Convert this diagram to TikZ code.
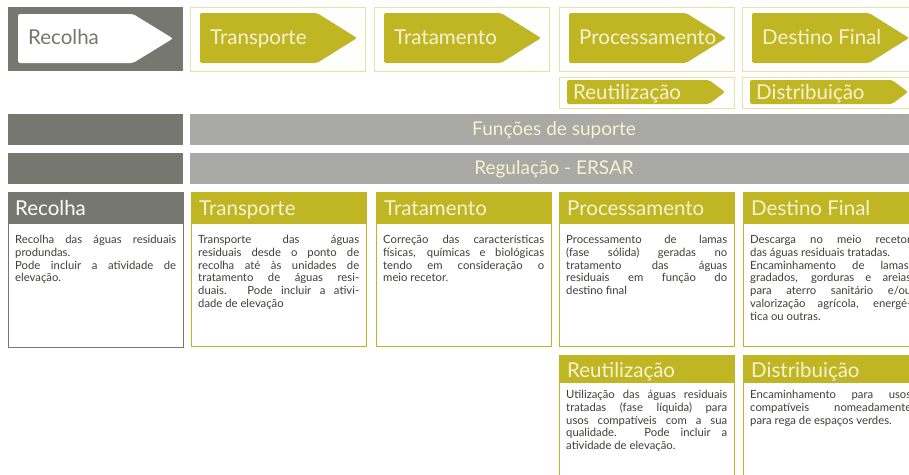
\documentclass[tikz,border=0pt]{standalone}
\usepackage{fontspec}
\setmainfont{Lato}
\usetikzlibrary{positioning}
\definecolor{cinza}{HTML}{76776F}
\definecolor{oliva}{HTML}{C0B624}
\definecolor{palha}{HTML}{E6E1A6}
\definecolor{cinzaclaro}{HTML}{A9A9A5}
\definecolor{creme}{HTML}{F7F3D2}
\definecolor{texto}{HTML}{3E3E3A}
\begin{document}
\begin{tikzpicture}[x=1pt,y=-1pt,
  moldura/.style={draw=palha,line width=1pt,fill=white,anchor=north west,inner sep=0pt,minimum width=175pt,minimum height=#1},
  seta/.style={fill=oliva,rounded corners=2pt},
  rotulo/.style={anchor=base west,inner sep=0pt,text=creme,font=\fontsize{20.5}{24}\selectfont},
  barra/.style={fill=#1,anchor=north west,inner sep=0pt,minimum height=31pt},
  caixa/.style={draw=#1,line width=1.3pt,fill=white,anchor=north west,inner sep=0pt,minimum width=175pt},
  cabeca/.style={fill=#1,anchor=north west,inner sep=0pt,minimum width=175pt},
  corpo/.style={anchor=north west,inner sep=0pt,text width=161pt,align=justify,text=texto,font=\fontsize{11.3}{12.8}\selectfont}]
\clip (0,0) rectangle (909,474);
\fill[white] (0,0) rectangle (909,474);
% Top row, recolha
\node[fill=cinza,anchor=north west,inner sep=0pt,minimum width=175pt,minimum height=64pt] (mRecolha) at (8,7) {};
\fill[white,rounded corners=2pt] (18,14) -- (133,14) -- (173,38.5) -- (133,63) -- (18,63) -- cycle;
\node[rotulo,text=cinza] (sRecolha) at (28,44.5) {Recolha};
% Top row, stages
\foreach \x/\nome/\rot in {190/Transporte/Transporte,374/Tratamento/Tratamento,559/Processamento/Processamento,742/Destino/Destino Final}{
  \node[moldura=64pt] (m\nome) at (\x,7) {};
  \fill[seta] (\x+10,13) -- (\x+127,13) -- (\x+167,38) -- (\x+127,63) -- (\x+10,63) -- cycle;
  \node[rotulo] (s\nome) at (\x+20,44.5) {\rot};
}
% Second row
\foreach \x/\nome/\rot in {559/Reutilizacao/Reutilização,742/Distribuicao/Distribuição}{
  \node[moldura=31pt] (m\nome) at (\x,77) {};
  \fill[seta] (\x+8,80) -- (\x+150,80) -- (\x+166,92) -- (\x+150,104) -- (\x+8,104) -- cycle;
  \node[rotulo] (s\nome) at (\x+14,99) {\rot};
}
% Support bars
\node[barra=cinza,minimum width=175pt] (bSuporte) at (8,114) {};
\node[barra=cinzaclaro,minimum width=725pt] (cSuporte) at (190,114) {};
\node[text=creme,font=\fontsize{19}{22}\selectfont,inner sep=0pt,anchor=base] (tSuporte) at (554,135.5) {Funções de suporte};
\node[barra=cinza,minimum width=175pt] (bRegulacao) at (8,153) {};
\node[barra=cinzaclaro,minimum width=725pt] (cRegulacao) at (190,153) {};
\node[text=creme,font=\fontsize{19}{22}\selectfont,inner sep=0pt,anchor=base] (tRegulacao) at (554,174.5) {Regulação - ERSAR};
% Boxes, first row
\node[caixa=cinza,minimum height=155pt] (cRecolha) at (8,192) {};
\node[cabeca=cinza,minimum height=32pt] (hRecolha) at (8,192) {};
\node[rotulo,text=white] (lRecolha) at (15,215) {Recolha};
\node[corpo] (tRecolha) at (15,235) {Recolha das águas residuais\linebreak produndas.\\ Pode incluir a atividade de\linebreak elevação.};
\node[caixa=oliva,minimum height=154pt] (cTransporte) at (191,192) {};
\node[cabeca=oliva,minimum height=32pt] (hTransporte) at (191,192) {};
\node[rotulo] (lTransporte) at (199,215) {Transporte};
\node[corpo] (tTransporte) at (198,235) {Transporte das águas\linebreak residuais desde o ponto de\linebreak recolha até às unidades de\linebreak tratamento de águas resi-\linebreak duais. Pode incluir a ativi-\linebreak dade de elevação};
\node[caixa=oliva,minimum height=154pt] (cTratamento) at (376,192) {};
\node[cabeca=oliva,minimum height=32pt] (hTratamento) at (376,192) {};
\node[rotulo] (lTratamento) at (384,215) {Tratamento};
\node[corpo] (tTratamento) at (383,235) {Correção das características\linebreak físicas, químicas e biológicas\linebreak tendo em consideração o\linebreak meio recetor.};
\node[caixa=oliva,minimum height=154pt] (cProcessamento) at (559,192) {};
\node[cabeca=oliva,minimum height=32pt] (hProcessamento) at (559,192) {};
\node[rotulo] (lProcessamento) at (567,215) {Processamento};
\node[corpo] (tProcessamento) at (566,235) {Processamento de lamas\linebreak (fase sólida) geradas no\linebreak tratamento das águas\linebreak residuais em função do\linebreak destino final};
\node[caixa=oliva,minimum height=154pt] (cDestino) at (743,192) {};
\node[cabeca=oliva,minimum height=32pt] (hDestino) at (743,192) {};
\node[rotulo] (lDestino) at (751,215) {Destino Final};
\node[corpo] (tDestino) at (750,235) {Descarga no meio recetor\linebreak das águas residuais tratadas.\\ Encaminhamento de lamas,\linebreak gradados, gorduras e areias\linebreak para aterro sanitário e/ou\linebreak valorização agrícola, energé-\linebreak tica ou outras.};
% Boxes, second row
\node[caixa=oliva,minimum height=140pt] (cReutilizacao) at (559,355) {};
\node[cabeca=oliva,minimum height=28pt] (hReutilizacao) at (559,355) {};
\node[rotulo] (lReutilizacao) at (567,377) {Reutilização};
\node[corpo] (tReutilizacao) at (566,390) {Utilização das águas residuais\linebreak tratadas (fase líquida) para\linebreak usos compatíveis com a sua\linebreak qualidade. Pode incluir a\linebreak atividade de elevação.};
\node[caixa=oliva,minimum height=140pt] (cDistribuicao) at (743,355) {};
\node[cabeca=oliva,minimum height=28pt] (hDistribuicao) at (743,355) {};
\node[rotulo] (lDistribuicao) at (751,377) {Distribuição};
\node[corpo] (tDistribuicao) at (750,390) {Encaminhamento para usos\linebreak compatíveis nomeadamente\linebreak para rega de espaços verdes.};
\end{tikzpicture}
\end{document}
